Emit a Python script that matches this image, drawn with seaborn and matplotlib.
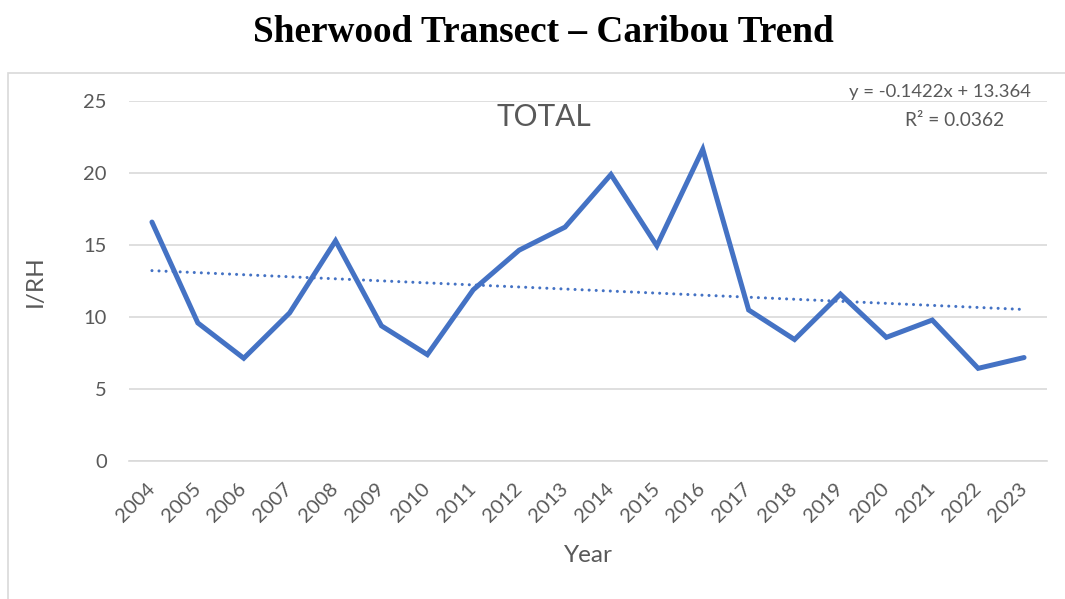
import numpy as np
import pandas as pd
import matplotlib.pyplot as plt
import matplotlib.patches as mpatches
import seaborn as sns

years = ["2004", "2005", "2006", "2007", "2008", "2009", "2010", "2011", "2012", "2013",
         "2014", "2015", "2016", "2017", "2018", "2019", "2020", "2021", "2022", "2023"]
total = [16.6, 9.6, 7.15, 10.3, 15.3, 9.4, 7.4, 11.9, 14.65, 16.25,
         19.9, 14.95, 21.65, 10.5, 8.45, 11.6, 8.6, 9.8, 6.45, 7.2]
y_ticks = [0, 5, 10, 15, 20, 25]

df = pd.DataFrame({"year": years, "total": total})
df["pos"] = np.arange(len(df))

blue = "#4472C4"
grey = "#595959"
gridc = "#D9D9D9"

sns.set_style("white")
plt.rcParams["font.family"] = ["Lato", "DejaVu Sans"]

fig = plt.figure(figsize=(10.65, 5.99), dpi=100)
ax = fig.add_axes([129 / 1065, 1 - 461.3 / 599, (1047 - 129) / 1065, (461.3 - 101) / 599])

# chart area border
fig.patches.append(mpatches.Rectangle((8 / 1065, -0.05), 1.1, 1 - 72.5 / 599 + 0.05,
                                      transform=fig.transFigure, fill=False,
                                      edgecolor=gridc, linewidth=1.2))

sns.lineplot(data=df, x="pos", y="total", color=blue, linewidth=3.6, ax=ax,
             solid_joinstyle="miter", solid_capstyle="round")

sns.regplot(data=df, x="pos", y="total", scatter=False, ci=None, ax=ax,
            line_kws=dict(color=blue, linewidth=2.2, linestyle=(0, (0.01, 2.3)),
                          dash_capstyle="round"))

ax.set_xlim(-0.5, len(years) - 0.5)
ax.set_ylim(0, 25)
ax.set_yticks(y_ticks)
ax.yaxis.grid(True, color=gridc, linewidth=1.2)
ax.set_axisbelow(True)

ax.set_xticks(np.arange(len(years) + 1) - 0.5)
ax.set_xticklabels([])
ax.set_xticks(df["pos"], minor=True)
ax.set_xticklabels(years, minor=True, rotation=45, ha="right", va="center",
                   rotation_mode="anchor", color=grey, fontsize=14.5)
ax.tick_params(axis="x", which="major", length=5, width=1.2, color=gridc, direction="out")
ax.tick_params(axis="x", which="minor", length=0, pad=18)
ax.tick_params(axis="y", length=0, pad=16, labelcolor=grey, labelsize=14.5)

for s in ["top", "right", "left"]:
    ax.spines[s].set_visible(False)
ax.spines["bottom"].set_color(gridc)
ax.spines["bottom"].set_linewidth(1.2)

ax.set_xlabel("Year", color=grey, fontsize=17.5)
ax.set_ylabel("I/RH", color=grey, fontsize=17.5)
ax.xaxis.set_label_coords(0.5, (461.3 - 555) / 360.3)
ax.yaxis.set_label_coords((35 - 129) / 918, 0.5)
ax.xaxis.label.set_va("center")
ax.yaxis.label.set_va("center")

ax.text(0.452, 0.955, "TOTAL", transform=ax.transAxes, ha="center", va="center",
        color=grey, fontsize=21.5)
ax.text(0.982, 1.025, "y = -0.1422x + 13.364", transform=ax.transAxes, ha="right",
        va="center", color=grey, fontsize=13.3)
ax.text(0.899, 0.945, "R² = 0.0362", transform=ax.transAxes, ha="center",
        va="center", color=grey, fontsize=13.8)

fig.text(543 / 1065, 1 - 32 / 599, "Sherwood Transect – Caribou Trend", ha="center",
         va="center", fontsize=26.8, fontweight="bold", color="black",
         family=["Liberation Serif"])

fig.savefig("out.png", dpi=100)
